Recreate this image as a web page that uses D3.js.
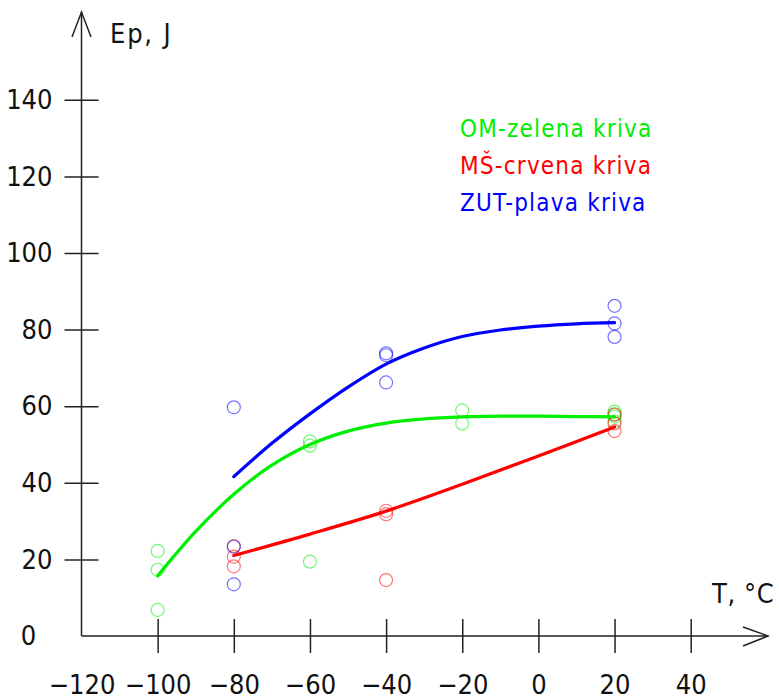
<!DOCTYPE html>
<html>
<head>
<meta charset="utf-8">
<script src="https://cdn.jsdelivr.net/npm/d3@7"></script>
<style>
  html, body { margin: 0; padding: 0; background: #fff; }
  svg { display: block; }
  text { font-family: "DejaVu Sans Condensed", "Liberation Sans Narrow", Roboto, sans-serif; }
</style>
</head>
<body>
<svg id="chart" width="779" height="699"></svg>
<script>
// ---- data ----
const xTickValues = [-120, -100, -80, -60, -40, -20, 0, 20, 40];
const yTickValues = [0, 20, 40, 60, 80, 100, 120, 140];

const omPointsX = [-100, -100, -100, -60, -60, -60, -20, -20, 20, 20, 20, 20];
const omPointsY = [22.2, 17.3, 6.8, 50.8, 49.7, 19.4, 58.9, 55.5, 58.6, 57.9, 57.3, 56.0];

const msPointsX = [-80, -80, -80, -40, -40, -40, 20, 20, 20];
const msPointsY = [23.5, 20.7, 18.2, 32.7, 31.8, 14.6, 57.8, 55.5, 53.5];

const zutPointsX = [-80, -80, -80, -40, -40, -40, 20, 20, 20];
const zutPointsY = [59.7, 23.3, 13.5, 73.8, 73.3, 66.2, 86.2, 81.6, 78.1];

const omCurveX = [-100, -90, -80, -70, -60, -50, -40, -30, -20, -10, 0, 10, 20];
const omCurveY = [15.7, 27.3, 37.0, 44.6, 50.0, 53.5, 55.6, 56.7, 57.2, 57.4, 57.4, 57.3, 57.2];

const msCurveX = [-80, -60, -40, -20, 0, 20];
const msCurveY = [21.0, 26.6, 32.6, 39.6, 47.0, 54.6];

const zutCurveX = [-80, -70, -60, -50, -40, -30, -20, -10, 0, 10, 20];
const zutCurveY = [41.6, 50.3, 58.0, 65.0, 71.0, 75.2, 78.2, 79.9, 80.9, 81.5, 81.8];

const legendLabels = ["OM-zelena kriva", "MŠ-crvena kriva", "ZUT-plava kriva"];
const seriesColors = ["#00ee00", "#ff0000", "#0000ff"];
const yAxisTitle = "Ep, J";
const xAxisTitle = "T, °C";

// ---- drawing ----
const svg = d3.select("#chart");
const x = d3.scaleLinear().domain([-120, 40]).range([81.5, 690.7]);
const y = d3.scaleLinear().domain([0, 140]).range([636, 99.8]);
const axisColor = "#222";

// axes lines with open arrowheads
const xEnd = 768, yEnd = 12;
svg.append("line").attr("x1", x(-120)).attr("x2", xEnd).attr("y1", y(0)).attr("y2", y(0))
  .attr("stroke", axisColor).attr("stroke-width", 1.5);
svg.append("polyline").attr("points", `${xEnd-25},${y(0)-9} ${xEnd},${y(0)} ${xEnd-25},${y(0)+10}`)
  .attr("fill", "none").attr("stroke", axisColor).attr("stroke-width", 1.5);
svg.append("line").attr("x1", x(-120)).attr("x2", x(-120)).attr("y1", y(0)).attr("y2", yEnd)
  .attr("stroke", axisColor).attr("stroke-width", 1.5);
svg.append("polyline").attr("points", `${x(-120)-9.5},${yEnd+25} ${x(-120)},${yEnd} ${x(-120)+9.5},${yEnd+25}`)
  .attr("fill", "none").attr("stroke", axisColor).attr("stroke-width", 1.5);

// x axis ticks and labels
const xAxis = d3.axisBottom(x).tickValues(xTickValues).tickSize(17).tickPadding(22)
  .tickFormat(d => d < 0 ? "\u2212" + Math.abs(d) : String(d));
const gx = svg.append("g").attr("transform", `translate(0,${y(0)})`).call(xAxis);
gx.select(".domain").remove();
gx.selectAll(".tick line").attr("y1", -17).attr("y2", 17).attr("stroke", axisColor).attr("stroke-width", 1.5)
  .style("display", d => d === -120 ? "none" : null);
gx.selectAll(".tick text").attr("font-size", 27).attr("fill", "#111").attr("dy", "0.71em")
  .attr("font-family", null);

// y axis ticks and labels
const yAxis = d3.axisLeft(y).tickValues(yTickValues).tickSize(17).tickPadding(12);
const gy = svg.append("g").attr("transform", `translate(${x(-120)},0)`).call(yAxis);
gy.select(".domain").remove();
gy.selectAll(".tick line").attr("x1", -17).attr("x2", 17).attr("stroke", axisColor).attr("stroke-width", 1.5)
  .style("display", d => d === 0 ? "none" : null);
gy.selectAll(".tick text").attr("font-size", 27).attr("fill", "#111").attr("font-family", null)
  .attr("x", d => d === 0 ? -53 : -29)
  .attr("text-anchor", d => d === 0 ? "middle" : "end");

// axis titles
svg.append("text").attr("x", 110).attr("y", 43).attr("font-size", 27).attr("letter-spacing", 1.8)
  .attr("fill", "#111").text(yAxisTitle);
svg.append("text").attr("x", 712).attr("y", 603).attr("font-size", 27).attr("letter-spacing", 0.6)
  .attr("fill", "#111").text(xAxisTitle);

// points
function drawPoints(xs, ys, color) {
  svg.append("g").selectAll("circle").data(xs.map((v, i) => [v, ys[i]])).join("circle")
    .attr("cx", d => x(d[0])).attr("cy", d => y(d[1])).attr("r", 6.5)
    .attr("fill", "none").attr("stroke", color).attr("stroke-opacity", 0.55).attr("stroke-width", 1.2);
}
drawPoints(omPointsX, omPointsY, seriesColors[0]);
drawPoints(msPointsX, msPointsY, seriesColors[1]);
drawPoints(zutPointsX, zutPointsY, seriesColors[2]);

// curves
const line = d3.line().x(d => x(d[0])).y(d => y(d[1])).curve(d3.curveCatmullRom.alpha(0.5));
function drawCurve(xs, ys, color) {
  svg.append("path").datum(xs.map((v, i) => [v, ys[i]])).attr("d", line)
    .attr("fill", "none").attr("stroke", color).attr("stroke-width", 3.2).attr("stroke-linecap", "round");
}
drawCurve(omCurveX, omCurveY, seriesColors[0]);
drawCurve(msCurveX, msCurveY, seriesColors[1]);
drawCurve(zutCurveX, zutCurveY, seriesColors[2]);

// legend
svg.append("g").selectAll("text").data(legendLabels).join("text")
  .attr("x", 460).attr("y", (d, i) => 137 + i * 37)
  .attr("font-size", 24).attr("letter-spacing", 1.2)
  .attr("fill", (d, i) => seriesColors[i]).text(d => d);
</script>
</body>
</html>
